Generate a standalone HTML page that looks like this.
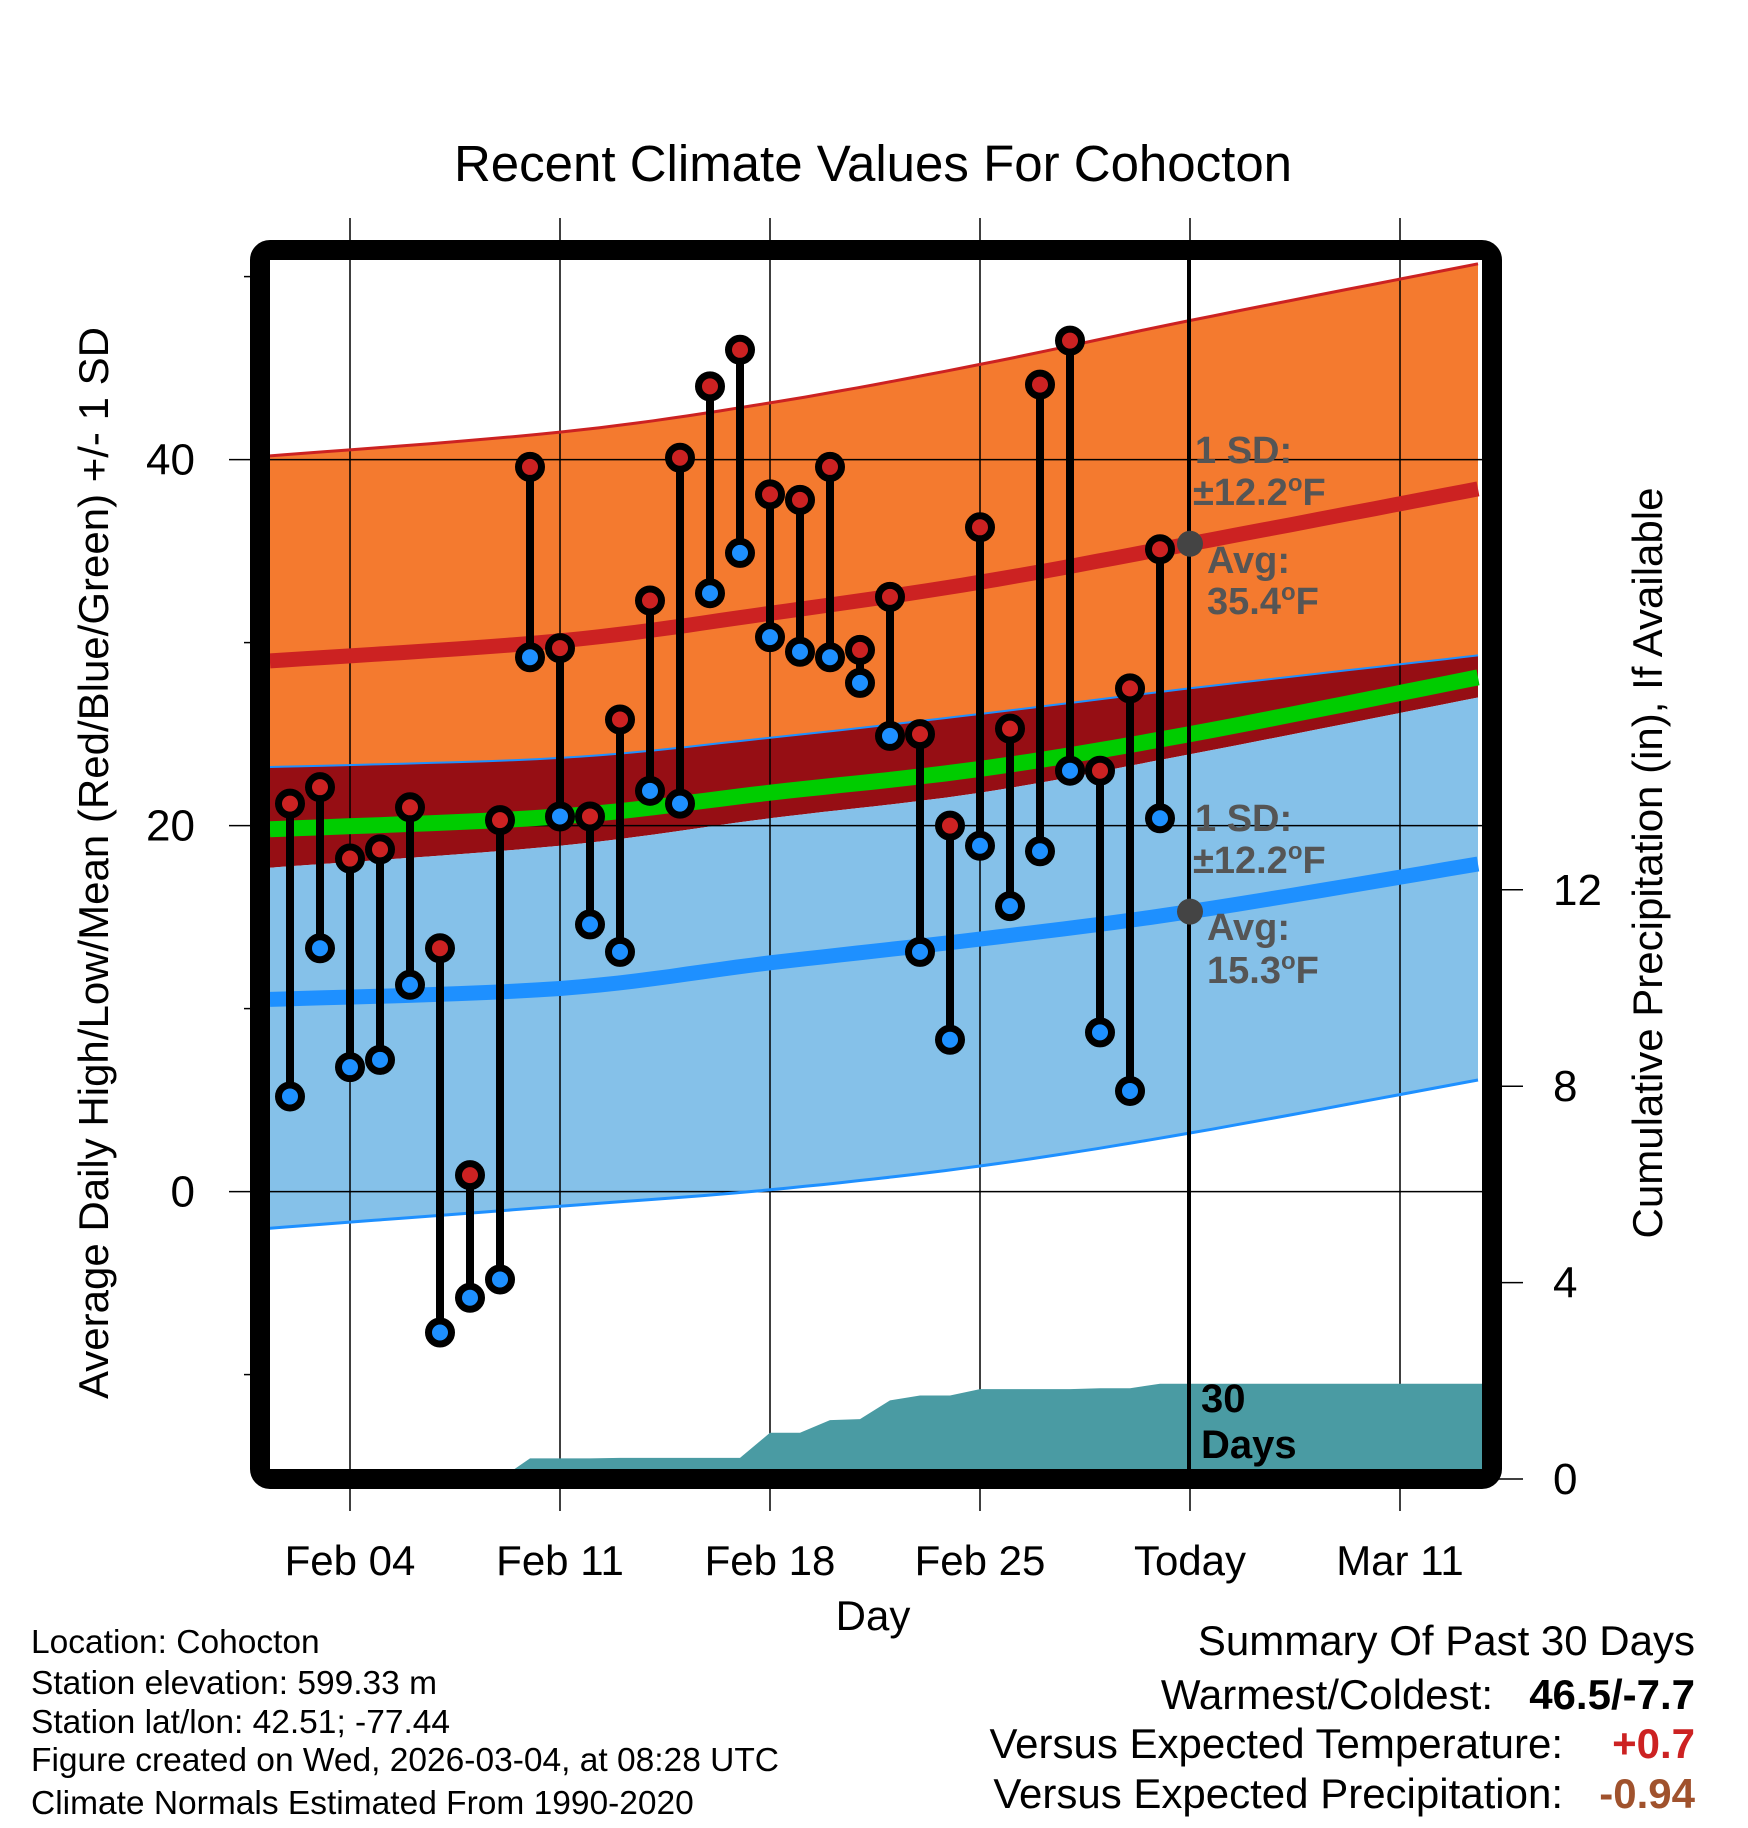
<!DOCTYPE html>
<html><head><meta charset="utf-8"><style>
html,body{margin:0;padding:0;background:#fff}
svg{display:block;font-family:"Liberation Sans",sans-serif}
</style></head><body>
<svg id="chart" width="1748" height="1828" viewBox="0 0 1748 1828" xmlns="http://www.w3.org/2000/svg">
<defs><clipPath id="plotclip"><rect x="270" y="260" width="1212" height="1209"/></clipPath></defs>
<g id="bands" clip-path="url(#plotclip)"></g>
<g id="grid"></g>
<g id="precip" clip-path="url(#plotclip)"></g>
<g id="lines" clip-path="url(#plotclip)"></g>
<line x1="1189" y1="260" x2="1189" y2="1469" stroke="#000" stroke-width="4"/>
<g id="marks"></g>
<rect x="260" y="250" width="1232" height="1229" rx="10" fill="none" stroke="#000" stroke-width="20"/>
<g id="axes"></g>
<text x="873" y="181" font-size="51" text-anchor="middle">Recent Climate Values For Cohocton</text>
<text x="873" y="1630" font-size="42" text-anchor="middle">Day</text>
<text transform="translate(108,863) rotate(-90)" font-size="42" text-anchor="middle">Average Daily High/Low/Mean (Red/Blue/Green) +/- 1 SD</text>
<text transform="translate(1662,863) rotate(-90)" font-size="42" text-anchor="middle">Cumulative Precipitation (in), If Available</text>
<g font-size="38" font-weight="bold" fill="#555">
<text x="1195" y="463">1 SD:</text><text x="1193" y="505">±12.2<tspan font-size="24" dy="-14">o</tspan><tspan dy="14">F</tspan></text>
<text x="1207" y="573">Avg:</text><text x="1207" y="614">35.4<tspan font-size="24" dy="-14">o</tspan><tspan dy="14">F</tspan></text>
<text x="1195" y="831">1 SD:</text><text x="1193" y="873">±12.2<tspan font-size="24" dy="-14">o</tspan><tspan dy="14">F</tspan></text>
<text x="1207" y="940">Avg:</text><text x="1207" y="983">15.3<tspan font-size="24" dy="-14">o</tspan><tspan dy="14">F</tspan></text>
</g>
<g font-size="40" font-weight="bold" fill="#000">
<text x="1201" y="1412">30</text><text x="1201" y="1458">Days</text></g>
<g font-size="33.5">
<text x="31" y="1653">Location: Cohocton</text>
<text x="31" y="1694">Station elevation: 599.33 m</text>
<text x="31" y="1733">Station lat/lon: 42.51; -77.44</text>
<text x="31" y="1771">Figure created on Wed, 2026-03-04, at 08:28 UTC</text>
<text x="31" y="1814">Climate Normals Estimated From 1990-2020</text>
</g>
<g font-size="42" text-anchor="end">
<text x="1695" y="1655">Summary Of Past 30 Days</text>
<text x="1493" y="1709">Warmest/Coldest:</text>
<text x="1695" y="1709" font-weight="bold">46.5/-7.7</text>
<text x="1563" y="1758">Versus Expected Temperature:</text>
<text x="1695" y="1758" font-weight="bold" fill="#cc2222">+0.7</text>
<text x="1563" y="1808">Versus Expected Precipitation:</text>
<text x="1695" y="1808" font-weight="bold" fill="#a0522d">-0.94</text>
</g>
</svg>
<script>
// days offset from Feb 04
const normDays=[-2.67,7,14,21,28,37.6];
const highUpper=[40.2,41.5,43.1,45.2,47.6,50.7];
const highAvg=[29.0,30.1,31.6,33.3,35.4,38.4];
const highLower=[23.2,23.7,24.8,26.1,27.5,29.3];
const meanAvg=[19.8,20.5,21.8,23.1,25.0,28.1];
const lowUpper=[17.7,18.9,20.4,21.8,23.9,27.0];
const lowAvg=[10.5,11.1,12.5,13.8,15.3,17.9];
const lowLower=[-2.0,-0.8,0.1,1.4,3.2,6.1];
// daily obs Feb 02 .. Mar 03 (day offset -2..27)
const obsDays=[-2,-1,0,1,2,3,4,5,6,7,8,9,10,11,12,13,14,15,16,17,18,19,20,21,22,23,24,25,26,27];
const highs=[21.2,22.1,18.2,18.7,21.0,13.3,0.9,20.3,39.6,29.7,20.5,25.8,32.3,40.1,44.0,46.0,38.1,37.8,39.6,29.6,32.5,25.0,20.0,36.3,25.3,44.1,46.5,23.0,27.5,35.1];
const lows=[5.2,13.3,6.8,7.2,11.3,-7.7,-5.8,-4.8,29.2,20.5,14.6,13.1,21.9,21.2,32.7,34.9,30.3,29.5,29.2,27.8,24.9,13.1,8.3,18.9,15.6,18.6,23.0,8.7,5.5,20.4];
const precipCum=[0,0,0,0,0,0,0,0,0.42,0.42,0.42,0.43,0.43,0.43,0.43,0.43,0.94,0.94,1.2,1.22,1.6,1.7,1.7,1.83,1.83,1.83,1.83,1.85,1.85,1.94];
const xTickDays=[0,7,14,21,28,35];
const xTickLabels=["Feb 04","Feb 11","Feb 18","Feb 25","Today","Mar 11"];
const yTicks=[40,20,0];
const yMinor=[50,30,10,-10];
const y2Ticks=[0,4,8,12];

const NS="http://www.w3.org/2000/svg";
const X=d=>350+d*30;
const Y=v=>1191.6-18.3*v;
const Y2=p=>1479-49.1*p;
function mk(tag,attrs,parent){const e=document.createElementNS(NS,tag);for(const k in attrs)e.setAttribute(k,attrs[k]);document.getElementById(parent).appendChild(e);return e;}
// smooth curve sampling (Catmull-Rom) through data points
function smooth(vals){
  const out=[];const n=normDays.length;
  for(let i=0;i<n-1;i++){
    const p0=[X(normDays[Math.max(0,i-1)]),Y(vals[Math.max(0,i-1)])];
    const p1=[X(normDays[i]),Y(vals[i])];
    const p2=[X(normDays[i+1]),Y(vals[i+1])];
    const p3=[X(normDays[Math.min(n-1,i+2)]),Y(vals[Math.min(n-1,i+2)])];
    for(let k=0;k<12;k++){const t=k/12,t2=t*t,t3=t2*t;
      const f=(a,b,c,d)=>0.5*(2*b+(-a+c)*t+(2*a-5*b+4*c-d)*t2+(-a+3*b-3*c+d)*t3);
      out.push([f(p0[0],p1[0],p2[0],p3[0]),f(p0[1],p1[1],p2[1],p3[1])]);}
  }
  out.push([X(normDays[n-1]),Y(vals[n-1])]);
  return out;
}
const fmt=a=>a.map(p=>p[0].toFixed(1)+","+p[1].toFixed(1));
function band(top,bot,fill,name){
  const p=fmt(smooth(top)).concat(fmt(smooth(bot)).reverse()).join(" ");
  const e=mk('polygon',{points:p,fill:fill},'bands');
  
  
}
function line(vals,col,w,name){
  const e=mk('polyline',{points:fmt(smooth(vals)).join(" "),fill:"none",stroke:col,"stroke-width":w},'lines');
  
  
}
band(highUpper,highLower,"#f47a2f","high-sd-band");
band(highLower,lowUpper,"#960e14","overlap-band");
band(lowUpper,lowLower,"#85c1e9","low-sd-band");

xTickDays.forEach((d,i)=>{
  const l=mk('line',{x1:X(d),y1:218,x2:X(d),y2:1511,stroke:"#000","stroke-width":1.5},'grid');
  
  
  const t=mk('text',{x:X(d),y:1575,"font-size":42,"text-anchor":"middle"},'axes');
  t.textContent=xTickLabels[i];
  
  
});
yTicks.forEach(v=>{
  const l=mk('line',{x1:229,y1:Y(v),x2:1482,y2:Y(v),stroke:"#000","stroke-width":1.5},'grid');
  
  
  const t=mk('text',{x:195,y:Y(v)+15,"font-size":44,"text-anchor":"end"},'axes');
  t.textContent=v;
  
  
});
yMinor.forEach(v=>{
  const l=mk('line',{x1:244,y1:Y(v),x2:256,y2:Y(v),stroke:"#000","stroke-width":1.5},'axes');
  
  
});
y2Ticks.forEach(p=>{
  const l=mk('line',{x1:1496,y1:Y2(p),x2:1523,y2:Y2(p),stroke:"#000","stroke-width":1.5},'axes');
  
  
  const t=mk('text',{x:1553,y:Y2(p)+15,"font-size":44},'axes');
  t.textContent=p;
  
  
});

{
  let p=[X(obsDays[0])+","+1470];
  obsDays.forEach((d,i)=>p.push(X(d)+","+Y2(precipCum[i]).toFixed(1)));
  p.push("1482,"+Y2(precipCum[precipCum.length-1]).toFixed(1));
  p.push("1482,1470");
  const e=mk('polygon',{points:p.join(" "),fill:"#4a9ba3"},'precip');
  
  
}

line(highUpper,"#cc2222",3,"high-upper-line");
line(highLower,"#1e90ff",2,"high-lower-line");
line(lowLower,"#1e90ff",3,"low-lower-line");
line(meanAvg,"#00cc00",16,"mean-avg-line");
line(highAvg,"#cc2222",15,"high-avg-line");
line(lowAvg,"#1e90ff",15,"low-avg-line");

[[28,highAvg[4]],[28,lowAvg[4]]].forEach(a=>{
  const c=mk('circle',{cx:X(a[0]),cy:Y(a[1]),r:13,fill:"#444"},'marks');
  
  
});

obsDays.forEach((d,i)=>{
  const s=mk('line',{x1:X(d),y1:Y(highs[i]),x2:X(d),y2:Y(lows[i]),stroke:"#000","stroke-width":8},'marks');
  
  
});
obsDays.forEach((d,i)=>{
  const h=mk('circle',{cx:X(d),cy:Y(highs[i]),r:11.5,fill:"#cc2222",stroke:"#000","stroke-width":7},'marks');
  
  
  const l=mk('circle',{cx:X(d),cy:Y(lows[i]),r:11.5,fill:"#1e90ff",stroke:"#000","stroke-width":7},'marks');
  
  
});
</script>
</body></html>
